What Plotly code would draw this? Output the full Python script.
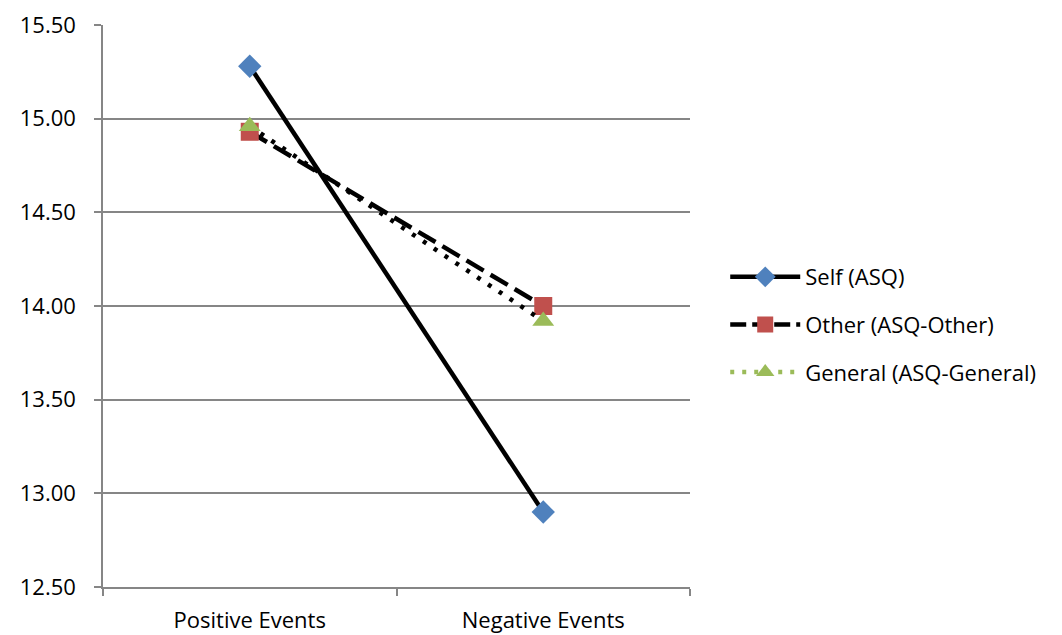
import plotly.graph_objects as go

categories = ["Positive Events", "Negative Events"]
self_asq = [15.28, 12.90]
other_asq = [14.93, 14.00]
general_asq = [14.96, 13.92]

series_names = ["Self (ASQ)", "Other (ASQ-Other)", "General (ASQ-General)"]

BLUE = "#4F81BD"
RED = "#C0504D"
GREEN = "#9BBB59"
FONT = "Open Sans, Liberation Sans, sans-serif"
FS = 22

fig = go.Figure()

# plotted series (lines drawn in black)
fig.add_trace(go.Scatter(
    x=categories, y=self_asq, mode="lines+markers", showlegend=False,
    line=dict(color="black", width=4.5),
    marker=dict(symbol="diamond", size=18, color=BLUE, line=dict(width=0)),
))
fig.add_trace(go.Scatter(
    x=categories, y=other_asq, mode="lines+markers", showlegend=False,
    line=dict(color="black", width=4.5, dash="20px,8px"),
    marker=dict(symbol="square", size=18, color=RED, line=dict(width=0)),
))
fig.add_trace(go.Scatter(
    x=categories, y=general_asq, mode="lines+markers", showlegend=False,
    line=dict(color="black", width=4.5, dash="4px,9px"),
    marker=dict(symbol="triangle-up", size=19, color=GREEN, line=dict(width=0)),
))

# legend entries
legend_styles = [
    (dict(color="black", width=4.5), dict(symbol="diamond", size=16, color=BLUE)),
    (dict(color="black", width=4.5, dash="16px,6px"), dict(symbol="square", size=17, color=RED)),
    (dict(color=GREEN, width=4.5, dash="4px,8px"), dict(symbol="triangle-up", size=17, color=GREEN)),
]
for i, (name, (ln, mk)) in enumerate(zip(series_names, legend_styles)):
    fig.add_trace(go.Scatter(
        x=[None], y=[None], mode="lines+markers", name=name,
        line=ln, marker=mk, legendgroup=f"g{i}",
    ))

fig.update_layout(
    width=1062, height=635,
    margin=dict(l=103, r=372, t=25, b=48, autoexpand=False),
    paper_bgcolor="white", plot_bgcolor="white",
    font=dict(family=FONT, size=FS, color="black"),
    legend=dict(
        x=1.06, xanchor="left", xref="paper", y=0.467, yanchor="middle",
        font=dict(family=FONT, size=FS, color="black"),
        tracegroupgap=16, traceorder="grouped",
        itemwidth=70,
        bgcolor="rgba(0,0,0,0)",
    ),
    xaxis=dict(
        type="category", range=[-0.5, 1.5], tickson="boundaries",
        showgrid=False, showline=True, linecolor="#868686", linewidth=1.5,
        ticks="outside", ticklen=7, tickcolor="#868686", tickwidth=1.5,
        tickfont=dict(family=FONT, size=FS), zeroline=False,
        ticklabelstandoff=13, automargin=False,
    ),
    yaxis=dict(
        range=[12.5, 15.5], tickvals=[12.5, 13, 13.5, 14, 14.5, 15, 15.5],
        tickformat=".2f", showgrid=True, gridcolor="#868686", gridwidth=1.5,
        showline=True, linecolor="#868686", linewidth=1.5,
        ticks="outside", ticklen=7, tickcolor="#868686", tickwidth=1.5,
        tickfont=dict(family=FONT, size=FS), zeroline=False,
        ticklabelstandoff=14, automargin=False,
    ),
)

fig.write_html("out.html")
